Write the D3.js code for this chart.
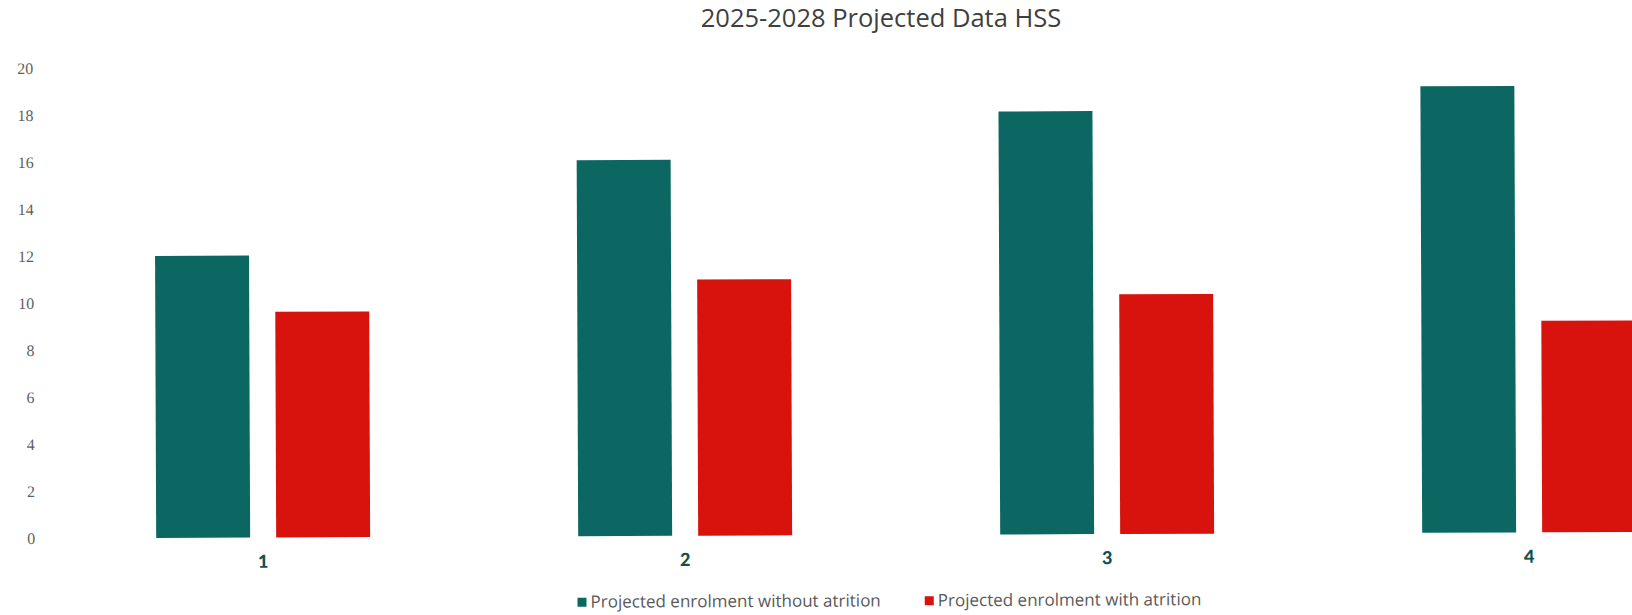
<!DOCTYPE html>
<html>
<head>
<meta charset="utf-8">
<script src="https://cdn.jsdelivr.net/npm/d3@7"></script>
<style>
  body { margin: 0; background: #fff; }
  svg { display: block; }
</style>
</head>
<body>
<div id="chart"></div>
<script>
// values
var categories = ["1", "2", "3", "4"];
var seriesNames = ["Projected enrolment without atrition", "Projected enrolment with atrition"];
var withoutAtrition = [12, 16, 18, 19];
var withAtrition = [9.6, 10.9, 10.2, 9.0];
var yTicks = [0, 2, 4, 6, 8, 10, 12, 14, 16, 18, 20];
var colors = ["#0c6762", "#d8120d"];

var svg = d3.select("#chart")
    .append("svg")
    .attr("width", 1632)
    .attr("height", 615)

svg.append("text")
    .attr("x", 881)
    .attr("y", 27)
    .attr("text-anchor", "middle")
    .style("font-family", "'Open Sans', sans-serif")
    .style("font-size", "25.5px")
    .style("fill", "#3f3f3f")
    .text("2025-2028 Projected Data HSS");

// the scan is tilted a little, so the plot is too
let chart = svg.append("g")
    .attr("transform", "rotate(-0.23)")

var x0 = d3.scaleBand()
    .domain(categories)
    .range([50, 1738]);

var x1 = d3.scaleBand()
    .domain(seriesNames)
    .range([0, x0.bandwidth()])
    .paddingInner(0.217)
    .paddingOuter(0.867);

var y = d3.scaleLinear()
    .domain([0, 20])
    .range([538.5, 68.5]);

var rows = categories.map(function(c, i) {
    return {cat: c, vals: [withoutAtrition[i], withAtrition[i]]};
});

chart.append("g")
    .selectAll("g")
    .data(rows)
    .join("g")
    .attr("transform", function(d) { return "translate(" + x0(d.cat) + ",0)"; })
    .selectAll("rect")
    .data(function(d) { return d.vals.map(function(v, j) { return {name: seriesNames[j], v: v, j: j}; }); })
    .join("rect")
    .attr("x", function(d) { return x1(d.name); })
    .attr("y", function(d) { return y(d.v); })
    .attr("width", x1.bandwidth())
    .attr("height", function(d) { return y(0) - y(d.v); })
    .attr("fill", function(d) { return colors[d.j]; });

// Y axis, labels only
var yAxis = chart.append("g")
    .attr("transform", "translate(35,0)")
    .call(d3.axisLeft(y).tickValues(yTicks).tickSize(0).tickPadding(2));
yAxis.select(".domain").remove();
yAxis.selectAll("text")
    .style("font-family", "'Liberation Serif', serif")
    .style("font-size", "16px")
    .style("fill", "#5f5f5f");

// category labels
var xAxis = chart.append("g")
    .attr("transform", "translate(0,548)")
    .call(d3.axisBottom(x0).tickSize(0).tickPadding(8));
xAxis.select(".domain").remove();
xAxis.selectAll("text")
    .style("font-family", "Lato, 'Open Sans', sans-serif")
    .style("font-weight", "900")
    .style("font-size", "18px")
    .style("fill", "#13514f");

// legend
let legend = chart.append("g")
    .attr("transform", "translate(0,605)")

var items = legend.selectAll("g")
    .data(seriesNames)
    .join("g");
items.append("rect")
    .attr("y", -5)
    .attr("width", 9)
    .attr("height", 9)
    .attr("fill", function(d, i) { return colors[i]; });
items.append("text")
    .attr("x", 13)
    .attr("y", 5)
    .style("font-family", "'Open Sans', sans-serif")
    .style("font-size", "17px")
    .style("fill", "#595959")
    .text(function(d) { return d; });

var widths = [];
items.each(function() { widths.push(this.getBBox().width); });
var gap = 44;
var total = d3.sum(widths) + gap * (widths.length - 1);
var lx = 887 - total / 2;
items.attr("transform", function(d, i) {
    var pos = lx;
    lx += widths[i] + gap;
    return "translate(" + pos + ",0)";
});
</script>
</body>
</html>
